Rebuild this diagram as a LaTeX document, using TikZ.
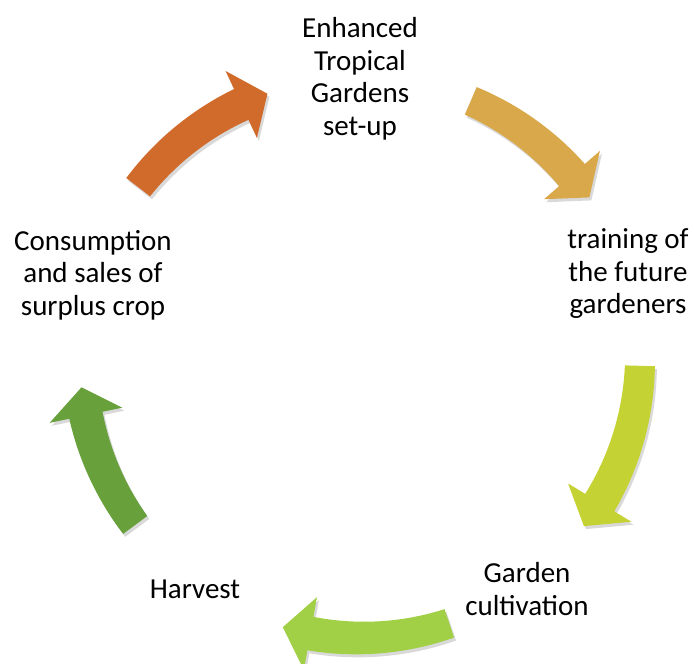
\documentclass[tikz,border=0pt]{standalone}
\usepackage{fontspec}
\setmainfont{Carlito}
\definecolor{cOrange}{HTML}{D16B2C}
\definecolor{cGold}{HTML}{D9A84A}
\definecolor{cYellowGreen}{HTML}{C5D233}
\definecolor{cLightGreen}{HTML}{A1CF45}
\definecolor{cGreen}{HTML}{68A03B}
% arrow drawn around the origin (the cycle centre)
\newcommand\cyclearrow[4][]{%
  \pgfmathsetmacro\headB{#3+5.8}%
  \pgfmathsetmacro\spanA{\headB-#2}%
  \fill[#4,#1] plot[domain=#2:\headB, samples=30, variable=\t]
      (\t:{295+2*(\t-#2)/\spanA})
    -- (\headB:317) -- (#3:280) -- (\headB:243)
    -- plot[domain=\headB:#2, samples=30, variable=\t]
      (\t:{265-2*(\t-#2)/\spanA}) -- cycle;
}
\begin{document}
\begin{tikzpicture}[x=1pt,y=1pt,
  lbl/.style={align=center, font=\fontsize{29}{32.5}\selectfont, inner sep=0pt, text=black}]
\useasboundingbox (0,0) rectangle (695,-663);
\clip (0,0) rectangle (695,-663);
\coordinate (c) at (360,-358);
% shadows
\begin{scope}[shift={(362,-361)}]
\cyclearrow[opacity=0.15]{142.4}{109.3}{black}
\cyclearrow[opacity=0.15]{66.7}{35}{black}
\cyclearrow[opacity=0.15]{-1.6}{-36.9}{black}
\cyclearrow[opacity=0.15]{-71.4}{-106}{black}
\cyclearrow[opacity=0.15]{216.6}{186}{black}
\end{scope}
% arrows
\begin{scope}[shift={(c)}]
\cyclearrow{142.4}{109.3}{cOrange}
\cyclearrow{66.7}{35}{cGold}
\cyclearrow{-1.6}{-36.9}{cYellowGreen}
\cyclearrow{-71.4}{-106}{cLightGreen}
\cyclearrow{216.6}{186}{cGreen}
\end{scope}
% labels
\node[lbl] (top) at (360,-79) {Enhanced\\Tropical\\Gardens\\set-up};
\node[lbl] (right) at (628,-274) {training of\\the future\\gardeners};
\node[lbl] (bright) at (527,-589) {Garden\\cultivation};
\node[lbl] (bleft) at (195,-589) {Harvest};
\node[lbl] (left) at (93,-275) {Consumption\\and sales of\\surplus crop};
\end{tikzpicture}
\end{document}
